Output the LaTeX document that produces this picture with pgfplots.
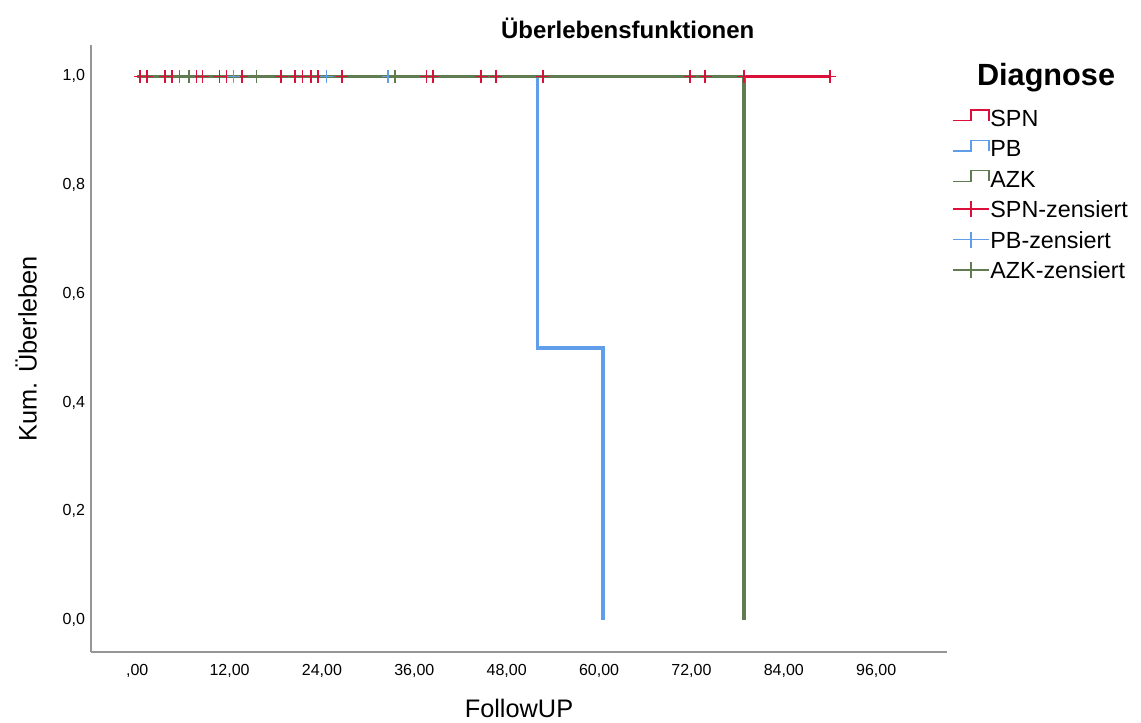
\documentclass[border=0pt]{standalone}
\usepackage{fontspec}
\setmainfont{Liberation Sans}
\usepackage{pgfplots}
\pgfplotsset{compat=1.18}
\definecolor{spn}{RGB}{218,16,58}
\definecolor{pb}{RGB}{96,158,234}
\definecolor{azk}{RGB}{98,124,82}
\definecolor{axgray}{RGB}{150,150,150}
\begin{document}
\begin{tikzpicture}
\useasboundingbox (0,0) rectangle (855.75pt,-541.5pt);
\begin{axis}[
  at={(68.25pt,-489pt)}, anchor=south west,
  scale only axis, width=642pt, height=455pt,
  xmin=-6, xmax=105.2, ymin=-0.059, ymax=1.057,
  axis x line*=bottom, axis y line*=left,
  axis line style={axgray, line width=1pt, -},
  major tick length=0pt,
  xtick={0,12,24,36,48,60,72,84,96},
  xticklabels={{,00},{12,00},{24,00},{36,00},{48,00},{60,00},{72,00},{84,00},{96,00}},
  ytick={0,0.2,0.4,0.6,0.8,1},
  yticklabels={{0,0},{0,2},{0,4},{0,6},{0,8},{1,0}},
  tick label style={font=\fontsize{12}{14}\selectfont},
  xticklabel style={yshift=-6pt},
  yticklabel style={xshift=-1pt},
  title={Überlebensfunktionen},
  title style={at={(axis description cs:0.627,1.0115)}, anchor=base, yshift=-6pt, font=\fontsize{18}{20}\selectfont\bfseries},
  xlabel={FollowUP},
  ylabel={Kum. Überleben},
  every axis x label/.style={at={(axis description cs:0.5,-0.108)}, anchor=base, font=\fontsize{19}{21}\selectfont},
  every axis y label/.style={at={(axis description cs:-0.0759,0.5)}, anchor=center, rotate=90, font=\fontsize{19}{21}\selectfont},
  legend style={at={(axis description cs:1.0058,0.896)}, anchor=north west, draw=none, fill=none,
    font=\fontsize{17.5}{20}\selectfont, row sep=9pt, inner sep=0pt,
    nodes={inner sep=0.5pt, text height=12.8pt, text depth=0pt}},
  legend cell align=left,
  clip=false,
]
\pgfplotsset{
  steplegend/.style={legend image code/.code={
    \draw[##1, line width=1.1pt, mark=none] (0pt,-2pt) -- (13.5pt,-2pt) -- (13.5pt,6pt) -- (27pt,6pt) -- (27pt,-2pt);}},
  censlegend/.style={legend image code/.code={
    \draw[##1, line width=1.1pt, mark=none] (0pt,0pt) -- (27pt,0pt) (13.5pt,-6pt) -- (13.5pt,6pt);}},
}
\addplot[spn, line width=2.7pt, steplegend] coordinates {(0,1) (90,1)};
\addlegendentry{SPN}
\addplot[pb, line width=2.7pt, steplegend] coordinates {(0,1) (52,1) (52,0.5) (60.5,0.5) (60.5,0)};
\addlegendentry{PB}
\addplot[azk, line width=2.7pt, steplegend] coordinates {(0,1) (78.8,1) (78.8,0)};
\addlegendentry{AZK}
\addplot[spn, only marks, mark=+, mark size=4.8pt, mark options={line width=1.2pt}, censlegend] coordinates {
 (0.4,1) (1.25,1) (3.6,1) (4.5,1) (7.7,1) (8.5,1) (10.7,1) (11.6,1) (13.6,1)
 (18.7,1) (20.5,1) (21.5,1) (22.6,1) (23.5,1) (24.6,1) (26.6,1) (33.5,1)
 (37.6,1) (38.4,1) (44.7,1) (46.6,1) (52.7,1) (71.8,1) (73.8,1) (78.8,1) (90,1)};
\addlegendentry{SPN-zensiert}
\addplot[pb, only marks, mark=+, mark size=4.8pt, mark options={line width=1.2pt}, censlegend] coordinates {
 (5.5,1) (12.5,1) (24.6,1) (32.6,1)};
\addlegendentry{PB-zensiert}
\addplot[azk, only marks, mark=+, mark size=4.8pt, mark options={line width=1.2pt}, censlegend] coordinates {
 (5.5,1) (6.7,1) (15.5,1) (33.5,1)};
\addlegendentry{AZK-zensiert}
\node[font=\fontsize{23}{25}\selectfont\bfseries, anchor=base] at (axis description cs:1.1157,0.934) {Diagnose};
\end{axis}
\end{tikzpicture}
\end{document}
